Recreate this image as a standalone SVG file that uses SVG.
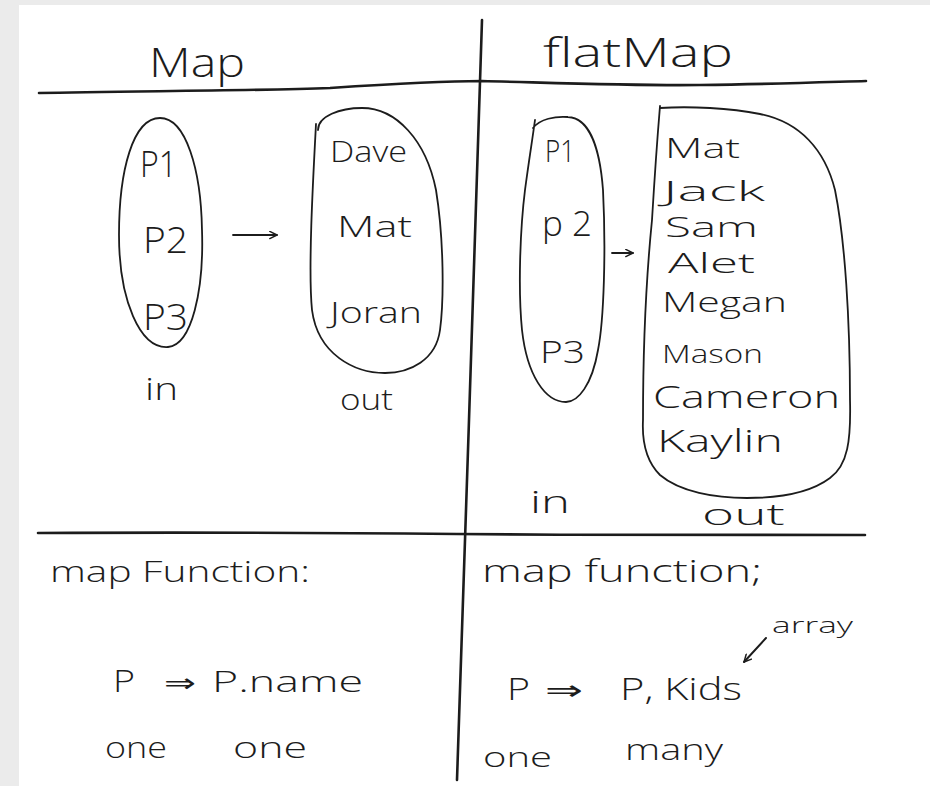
<svg xmlns="http://www.w3.org/2000/svg" width="930" height="786" viewBox="0 0 930 786">
  <style>
    .ink { fill: none; stroke: #1c1c1c; stroke-linecap: round; stroke-linejoin: round; }
    .rule { stroke-width: 2.6; }
    .blob { stroke-width: 1.8; }
    .hand { font-family: "Open Sans", "DejaVu Sans", sans-serif; font-weight: 300; fill: #1c1c1c; }
    .sym { font-family: "DejaVu Sans", sans-serif; font-weight: 400; fill: #1c1c1c; }
  </style>
  <defs>
    <marker id="open-head" viewBox="0 0 10 10" refX="9" refY="5" markerWidth="9" markerHeight="9" markerUnits="userSpaceOnUse" orient="auto">
      <path d="M1,1 L9,5 L1,9" fill="none" stroke="#1c1c1c" stroke-width="1.6" stroke-linecap="round" stroke-linejoin="round"/>
    </marker>
  </defs>

  <!-- page -->
  <rect x="0" y="0" width="930" height="786" fill="#ebebeb"/>
  <rect x="19" y="5" width="911" height="781" fill="#ffffff"/>

  <!-- grid rules -->
  <g id="rules">
    <path class="ink rule" d="M39,93 C120,91 250,91 330,88 C390,84 440,81 482,81 C560,83 640,86 700,85 C780,84 830,82 866,81"/>
    <path class="ink rule" d="M482,20 L469,420 L457,780" stroke-width="1.8"/>
    <path class="ink rule" d="M38,533 C200,532 350,533 457,534 C600,535 760,536 865,535" stroke-width="2"/>
  </g>

  <!-- column titles -->
  <g id="title-map"><text class="hand" x="149" y="77" font-size="40" textLength="96" lengthAdjust="spacingAndGlyphs">Map</text></g>
  <g id="title-flatmap"><text class="hand" x="543" y="67" font-size="40" textLength="190" lengthAdjust="spacingAndGlyphs">flatMap</text></g>

  <!-- Map: input set -->
  <g id="map-in">
    <path class="ink blob" d="M160,118 C186,118 201,170 202,230 C204,290 192,345 168,347 C140,349 119,300 119,235 C119,170 133,118 160,118 Z"/>
    <text class="hand" x="140" y="177" font-size="36" textLength="37" lengthAdjust="spacingAndGlyphs">P1</text>
    <text class="hand" x="143" y="253" font-size="36" textLength="45" lengthAdjust="spacingAndGlyphs">P2</text>
    <text class="hand" x="143" y="330" font-size="36" textLength="45" lengthAdjust="spacingAndGlyphs">P3</text>
    <text class="hand" x="145" y="400" font-size="32" textLength="33" lengthAdjust="spacingAndGlyphs">in</text>
  </g>

  <!-- Map: output set -->
  <g id="map-out">
    <path class="ink blob" d="M318,130 C318,116 340,108 362,108 C396,108 426,140 436,190 C444,240 444,300 440,330 C436,360 410,373 385,373 C355,373 318,355 312,310 C308,270 313,180 316,124"/>
    <text class="hand" x="330" y="162" font-size="30" textLength="77" lengthAdjust="spacingAndGlyphs">Dave</text>
    <text class="hand" x="337" y="237" font-size="30" textLength="75" lengthAdjust="spacingAndGlyphs">Mat</text>
    <text class="hand" x="330" y="323" font-size="30" textLength="92" lengthAdjust="spacingAndGlyphs">Joran</text>
    <text class="hand" x="340" y="410" font-size="30" textLength="53" lengthAdjust="spacingAndGlyphs">out</text>
  </g>

  <!-- flatMap: input set -->
  <g id="flatmap-in">
    <path class="ink blob" d="M533,128 C540,119 555,116 568,117 C590,118 600,150 603,190 C606,250 604,320 598,350 C592,385 578,402 566,402 C545,402 527,375 522,330 C518,290 520,230 525,190 C529,160 532,142 535,120"/>
    <text class="hand" x="545" y="162" font-size="32" textLength="30" lengthAdjust="spacingAndGlyphs">P1</text>
    <text class="hand" x="542" y="236" font-size="34" textLength="50" lengthAdjust="spacingAndGlyphs">p 2</text>
    <text class="hand" x="540" y="363" font-size="32" textLength="45" lengthAdjust="spacingAndGlyphs">P3</text>
    <text class="hand" x="530" y="513" font-size="32" textLength="40" lengthAdjust="spacingAndGlyphs">in</text>
  </g>

  <!-- flatMap: output set -->
  <g id="flatmap-out">
    <path class="ink blob" d="M660,108 C690,106 730,108 760,114 C800,122 825,150 835,190 C845,240 850,320 850,400 C851,440 848,465 830,478 C810,493 780,498 747,498 C715,498 680,492 660,475 C645,460 642,440 643,420 C643,360 646,280 652,220 C655,170 658,130 660,106"/>
    <text class="hand" x="665" y="158" font-size="28" textLength="75" lengthAdjust="spacingAndGlyphs">Mat</text>
    <text class="hand" x="663" y="201" font-size="28" textLength="102" lengthAdjust="spacingAndGlyphs">Jack</text>
    <text class="hand" x="665" y="237" font-size="28" textLength="93" lengthAdjust="spacingAndGlyphs">Sam</text>
    <text class="hand" x="668" y="273" font-size="27" textLength="87" lengthAdjust="spacingAndGlyphs">Alet</text>
    <text class="hand" x="662" y="312" font-size="27" textLength="125" lengthAdjust="spacingAndGlyphs">Megan</text>
    <text class="hand" x="662" y="363" font-size="26" textLength="101" lengthAdjust="spacingAndGlyphs">Mason</text>
    <text class="hand" x="653" y="408" font-size="32" textLength="187" lengthAdjust="spacingAndGlyphs">Cameron</text>
    <text class="hand" x="657" y="452" font-size="32" textLength="126" lengthAdjust="spacingAndGlyphs">Kaylin</text>
    <text class="hand" x="702" y="525" font-size="30" textLength="83" lengthAdjust="spacingAndGlyphs">out</text>
  </g>

  <!-- mapping arrows -->
  <g id="connectors">
    <line class="ink" x1="233" y1="235" x2="277" y2="235" stroke-width="1.8" marker-end="url(#open-head)"/>
    <line class="ink" x1="612" y1="253" x2="633" y2="253" stroke-width="1.8" marker-end="url(#open-head)"/>
    <line class="ink" x1="766" y1="638" x2="744" y2="662" stroke-width="2" marker-end="url(#open-head)"/>
  </g>

  <!-- Map: function -->
  <g id="map-function">
    <text class="hand" x="50" y="582" font-size="30" textLength="260" lengthAdjust="spacingAndGlyphs">map Function:</text>
    <text class="hand" x="113" y="692" font-size="32" textLength="22" lengthAdjust="spacingAndGlyphs">P</text>
    <text class="sym" x="164" y="692" font-size="26" textLength="32" lengthAdjust="spacingAndGlyphs">⇒</text>
    <text class="hand" x="212" y="692" font-size="30" textLength="151" lengthAdjust="spacingAndGlyphs">P.name</text>
    <text class="hand" x="105" y="758" font-size="30" textLength="62" lengthAdjust="spacingAndGlyphs">one</text>
    <text class="hand" x="233" y="758" font-size="30" textLength="74" lengthAdjust="spacingAndGlyphs">one</text>
  </g>

  <!-- flatMap: function -->
  <g id="flatmap-function">
    <text class="hand" x="482" y="582" font-size="32" textLength="280" lengthAdjust="spacingAndGlyphs">map function;</text>
    <text class="hand" x="772" y="633" font-size="22" textLength="81" lengthAdjust="spacingAndGlyphs">array</text>
    <text class="hand" x="507" y="700" font-size="32" textLength="23" lengthAdjust="spacingAndGlyphs">P</text>
    <text class="sym" x="545" y="700" font-size="28" textLength="38" lengthAdjust="spacingAndGlyphs">⇒</text>
    <text class="hand" x="620" y="700" font-size="32" textLength="122" lengthAdjust="spacingAndGlyphs">P, Kids</text>
    <text class="hand" x="483" y="767" font-size="28" textLength="69" lengthAdjust="spacingAndGlyphs">one</text>
    <text class="hand" x="625" y="760" font-size="30" textLength="98" lengthAdjust="spacingAndGlyphs">many</text>
  </g>
</svg>
